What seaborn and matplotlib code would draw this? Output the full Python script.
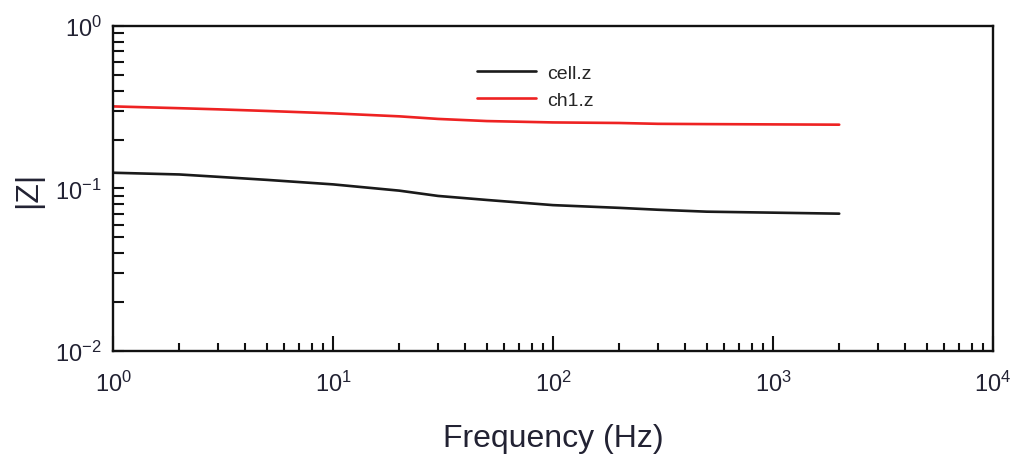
import matplotlib
matplotlib.use("Agg")
import matplotlib.pyplot as plt
import matplotlib.ticker as mticker
import seaborn as sns
import pandas as pd
import numpy as np

freq = [1, 2, 3, 5, 10, 20, 30, 50, 100, 200, 300, 500, 1000, 2000]
cell_z = [0.125, 0.122, 0.118, 0.113, 0.106, 0.097, 0.090, 0.085, 0.079, 0.076, 0.074, 0.072, 0.071, 0.070]
ch1_z = [0.320, 0.312, 0.307, 0.300, 0.290, 0.278, 0.268, 0.260, 0.255, 0.253, 0.250, 0.249, 0.248, 0.247]
series_names = ["cell.z", "ch1.z"]
series_colors = ["#1a1a1a", "#ee2222"]

df = pd.DataFrame({
    "Frequency": freq * 2,
    "Z": cell_z + ch1_z,
    "series": [series_names[0]] * len(freq) + [series_names[1]] * len(freq),
})

sns.set_style("ticks")
plt.rcParams["font.family"] = ["Liberation Sans", "DejaVu Sans"]
plt.rcParams["mathtext.fontset"] = "custom"
plt.rcParams["mathtext.rm"] = "Liberation Sans"
plt.rcParams["mathtext.it"] = "Liberation Sans"

fig = plt.figure(figsize=(10.12, 4.56), dpi=100)
ax = fig.add_axes([0.1117, 0.2281, 0.8695, 0.7127])

sns.lineplot(data=df, x="Frequency", y="Z", hue="series",
             palette=dict(zip(series_names, series_colors)),
             linewidth=1.9, ax=ax, legend=True)

ax.set_xscale("log")
ax.set_yscale("log")
ax.set_xlim(1, 1e4)
ax.set_ylim(1e-2, 1)

for s in ax.spines.values():
    s.set_visible(True)
    s.set_linewidth(1.7)
    s.set_color("#111111")

ax.xaxis.set_major_locator(mticker.LogLocator(base=10, numticks=10))
ax.xaxis.set_minor_locator(mticker.LogLocator(base=10, subs=np.arange(2, 10), numticks=20))
ax.yaxis.set_major_locator(mticker.LogLocator(base=10, numticks=10))
ax.yaxis.set_minor_locator(mticker.LogLocator(base=10, subs=np.arange(2, 10), numticks=20))
ax.xaxis.set_minor_formatter(mticker.NullFormatter())
ax.yaxis.set_minor_formatter(mticker.NullFormatter())

ax.tick_params(axis="x", which="major", direction="in", length=11, width=1.5, pad=14,
               labelsize=17, top=False, colors="#111111", labelcolor="#222233")
ax.tick_params(axis="x", which="minor", direction="in", length=6, width=1.5, top=False,
               colors="#111111")
ax.tick_params(axis="y", which="major", direction="in", length=8, width=1.5, pad=8,
               labelsize=17, right=False, colors="#111111", labelcolor="#222233")
ax.tick_params(axis="y", which="minor", direction="in", length=8, width=1.5, right=False,
               colors="#111111")

ax.set_xlabel("Frequency (Hz)", fontsize=23, color="#222233", labelpad=20)
ax.set_ylabel("|Z|", fontsize=23, color="#222233", labelpad=9)

leg = ax.legend(loc="upper left", bbox_to_anchor=(0.394, 0.935), frameon=False,
                fontsize=14, handlelength=3.0, handletextpad=0.57, labelspacing=0.45)
for line in leg.get_lines():
    line.set_linewidth(1.9)

fig.savefig("out.png", dpi=100)
